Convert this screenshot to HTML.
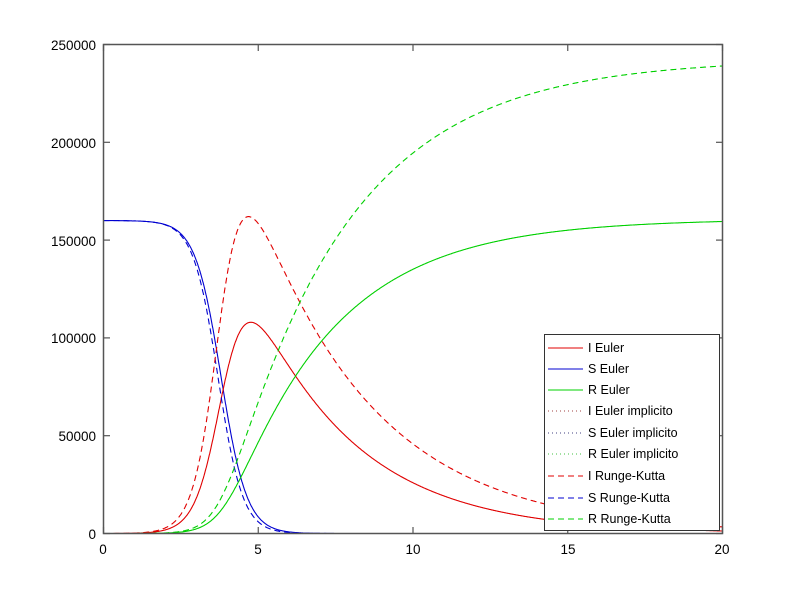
<!DOCTYPE html>
<html><head><meta charset="utf-8"><style>
body{margin:0;background:#fff;}
svg{display:block;font-family:"Liberation Sans",sans-serif;font-size:13.5px;}
</style></head><body>
<svg id="s" width="800" height="600" viewBox="0 0 800 600" xmlns="http://www.w3.org/2000/svg">
<rect width="800" height="600" fill="#fff"/>
<g id="curves"></g>
<rect x="103.5" y="44.5" width="619" height="489" fill="none" stroke="#555" stroke-width="1.5"/>
<g stroke="#555" stroke-width="1.2" id="ticks"></g>
<g fill="#000" text-anchor="middle">
<text x="103" y="554">0</text><text x="258" y="554">5</text><text x="413" y="554">10</text><text x="568" y="554">15</text><text x="722" y="554">20</text>
</g>
<g fill="#000" text-anchor="end">
<text x="96" y="539">0</text><text x="96" y="441">50000</text><text x="96" y="343">100000</text><text x="96" y="246">150000</text><text x="96" y="148">200000</text><text x="96" y="50">250000</text>
</g>
<rect x="544.5" y="334.5" width="175" height="196" fill="#fff" stroke="#333" stroke-width="1"/>
<g font-size="12.5" fill="#000">
<line x1="548" y1="348" x2="583" y2="348" stroke="#e00000"/><text x="588" y="352">I Euler</text>
<line x1="548" y1="369" x2="583" y2="369" stroke="#0000d0"/><text x="588" y="373">S Euler</text>
<line x1="548" y1="390" x2="583" y2="390" stroke="#00d000"/><text x="588" y="394">R Euler</text>
<line x1="548" y1="411" x2="583" y2="411" stroke="#a04040" stroke-dasharray="1,3"/><text x="588" y="415">I Euler implicito</text>
<line x1="548" y1="433" x2="583" y2="433" stroke="#404080" stroke-dasharray="1,3"/><text x="588" y="437">S Euler implicito</text>
<line x1="548" y1="454" x2="583" y2="454" stroke="#40c040" stroke-dasharray="1,3"/><text x="588" y="458">R Euler implicito</text>
<line x1="548" y1="476" x2="583" y2="476" stroke="#e00000" stroke-dasharray="6,4"/><text x="588" y="480">I Runge-Kutta</text>
<line x1="548" y1="498" x2="583" y2="498" stroke="#0000d0" stroke-dasharray="6,4"/><text x="588" y="502">S Runge-Kutta</text>
<line x1="548" y1="519" x2="583" y2="519" stroke="#00d000" stroke-dasharray="6,4"/><text x="588" y="523">R Runge-Kutta</text>
</g>
</svg>
<script>
var NS="http://www.w3.org/2000/svg";
function X(t){return 103.5+t*619/20;}
function Y(v){return 533.5-v*489/250000;}
function sim(N,t0,k,fac,g){
 var S=[],I=[],R=[],dt=0.01,i=0,r=0;
 for(var t=0;t<=20.0001;t+=dt){
  var s=N/(1+Math.exp(k*(t-t0)));
  var ds=N*k*Math.exp(k*(t-t0))/Math.pow(1+Math.exp(k*(t-t0)),2);
  S.push([t,s]);I.push([t,i]);R.push([t,r]);
  var di=fac*ds-g*i, dr=g*i;
  i+=di*dt; r+=dr*dt;
 }
 return [S,I,R];
}
function poly(pts,col,dash){
 var p=document.createElementNS(NS,"polyline");
 p.setAttribute("points",pts.map(function(a){return X(a[0]).toFixed(1)+","+Y(a[1]).toFixed(1)}).join(" "));
 p.setAttribute("fill","none");p.setAttribute("stroke",col);p.setAttribute("stroke-width","1.1");
 if(dash)p.setAttribute("stroke-dasharray",dash);
 document.getElementById("curves").appendChild(p);
}
var e=sim(160000,3.8,2.4,1,0.3);
var r=sim(160000,3.7,2.5,1.5,0.26);
function scaleTo(arr,fin){var f=fin/arr[arr.length-1][1];return arr.map(function(a){return [a[0],a[1]*f]});}
e[2]=scaleTo(e[2],159500); r[2]=scaleTo(r[2],239000);
function scalePeak(arr,pk){var m=0;arr.forEach(function(a){m=Math.max(m,a[1])});return arr.map(function(a){return [a[0],a[1]*pk/m]});}
e[1]=scalePeak(e[1],108000); r[1]=scalePeak(r[1],162000);
poly(e[0],"#0000d0");poly(e[1],"#e00000");poly(e[2],"#00d000");
poly(r[0],"#0000d0","6,4");poly(r[1],"#e00000","6,4");poly(r[2],"#00d000","6,4");
var tk=document.getElementById("ticks");
function ln(a,b,c,d){var l=document.createElementNS(NS,"line");l.setAttribute("x1",a);l.setAttribute("y1",b);l.setAttribute("x2",c);l.setAttribute("y2",d);tk.appendChild(l);}
for(var j=0;j<=4;j++){var x=X(j*5);ln(x,533.5,x,527);ln(x,44.5,x,51);}
for(var j=0;j<=5;j++){var y=Y(j*50000);ln(103.5,y,110,y);ln(722.5,y,716,y);}
</script>
</body></html>
